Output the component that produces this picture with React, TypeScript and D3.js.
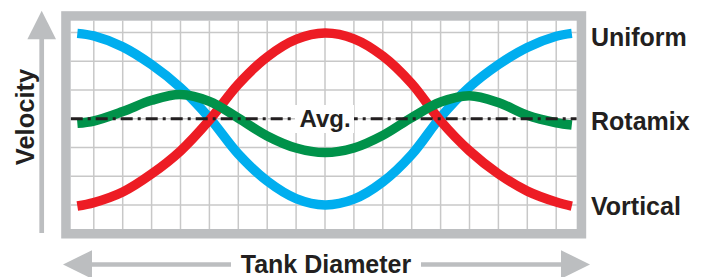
import * as d3 from 'd3';
import React from 'react';

// tank diameter position, in grid cells from the centre
const diameter = [-8.57, -8, -7, -6, -5, -4, -3, -2, -1, 0, 1, 2, 3, 4, 5, 6, 7, 8, 8.54];
// velocity, in grid cells above / below the average line
const uniform = [2.97, 2.88, 2.5, 1.88, 1.08, 0.03, -1.23, -2.17, -2.78, -3.0, -2.8, -2.2, -1.25, 0.05, 1.1, 1.88, 2.48, 2.87, 2.97];
const vortical = [-3.04, -2.92, -2.55, -1.92, -1.12, -0.05, 1.2, 2.15, 2.76, 2.98, 2.78, 2.18, 1.22, -0.08, -1.12, -1.92, -2.52, -2.9, -3.04];
const rotamix = [-0.16, -0.08, 0.25, 0.64, 0.84, 0.6, 0.02, -0.6, -1.02, -1.18, -1.02, -0.58, 0.04, 0.58, 0.8, 0.56, 0.12, -0.14, -0.22];
// vertical position of each series name, same units
const labelAt = [2.84, -3.04, -0.08];

const series = [
  { name: 'Uniform', values: uniform, color: '#00aeef' },
  { name: 'Vortical', values: vortical, color: '#ed1c24' },
  { name: 'Rotamix', values: rotamix, color: '#00924a' },
];
const gridCols = d3.range(-9, 10);
const gridRows = d3.range(-3, 4);

const W = 703;
const H = 277;
const grey = '#bcbec0';
const ink = '#231f20';
const font = '"Liberation Sans", Arial, Helvetica, sans-serif';

export default function App() {
  const x = d3.scaleLinear().domain([-9, 9]).range([325 - 9 * 28.9, 325 + 9 * 28.9]);
  const y = d3.scaleLinear().domain([-3, 3]).range([204.9, 32.5]);

  const line = d3
    .line<number>()
    .x((d, i) => x(diameter[i]))
    .y(d => y(d))
    .curve(d3.curveCatmullRom.alpha(0.5));

  const left = 70.7;
  const right = 576.7;
  const top = 20.7;
  const bottom = 229;
  const bw = 9.5;

  return (
    <svg width={W} height={H} style={{ position: 'absolute', left: 0, top: 0, background: '#fff' }} fontFamily={font}>
      {/* grid */}
      <g stroke="#c8c8c8" strokeWidth={1.5}>
        {gridCols.map(c => (
          <line key={'c' + c} x1={x(c)} x2={x(c)} y1={top} y2={bottom} />
        ))}
        {gridRows.map(r => (
          <line key={'r' + r} x1={left} x2={right} y1={y(r)} y2={y(r)} />
        ))}
      </g>

      {/* curves */}
      {series.map(s => (
        <path key={s.name} d={line(s.values) || ''} fill="none" stroke={s.color} strokeWidth={9.5} />
      ))}

      {/* average line */}
      <line x1={left} x2={right} y1={y(0)} y2={y(0)} stroke={ink} strokeWidth={3} strokeDasharray="12,5,3,5" />
      <rect x={295} y={105} width={59} height={28} fill="#fff" />
      <text x={x(0)} y={y(0) + 8.5} textAnchor="middle" fontSize={24} fontWeight="bold" fill={ink}>
        Avg.
      </text>

      {/* frame */}
      <rect
        x={left - bw / 2}
        y={top - bw / 2}
        width={right - left + bw}
        height={bottom - top + bw}
        fill="none"
        stroke={grey}
        strokeWidth={bw}
      />

      {/* series labels */}
      {series.map((s, i) => (
        <text key={s.name} x={591} y={y(labelAt[i]) + 9} fontSize={25} fontWeight="bold" fill={ink}>
          {s.name}
        </text>
      ))}

      {/* velocity axis arrow */}
      <line x1={41.7} x2={41.7} y1={38} y2={233} stroke={grey} strokeWidth={4.7} />
      <path d="M41.7,10.7L56,39.3L27.4,39.3Z" fill={grey} />
      <text
        transform="translate(34,117) rotate(-90)"
        textAnchor="middle"
        fontSize={25.5}
        fontWeight="bold"
        fill={ink}
      >
        Velocity
      </text>

      {/* tank diameter arrow */}
      <line x1={91} x2={231} y1={264.5} y2={264.5} stroke={grey} strokeWidth={4.7} />
      <line x1={421} x2={562} y1={264.5} y2={264.5} stroke={grey} strokeWidth={4.7} />
      <path d="M63,264.5L92,250.2L92,278.8Z" fill={grey} />
      <path d="M590,264.5L561,250.2L561,278.8Z" fill={grey} />
      <text x={326} y={273} textAnchor="middle" fontSize={25} fontWeight="bold" fill={ink}>
        Tank Diameter
      </text>
    </svg>
  );
}
